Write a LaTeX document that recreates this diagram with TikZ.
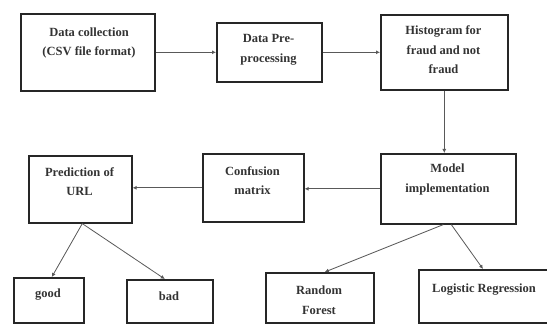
\documentclass[tikz,border=0pt]{standalone}
\usepackage{fontspec}
\setmainfont{Liberation Serif}
\usetikzlibrary{arrows.meta}
\begin{document}
\begin{tikzpicture}[x=1pt,y=-1pt,
  box/.style={draw=black!85,line width=1.6pt,anchor=north west,inner sep=0pt},
  lbl/.style={align=center,font=\fontsize{12.5}{19.5}\selectfont\bfseries,text=black!80,inner sep=0pt},
  flow/.style={draw=black!65,line width=0.8pt,-{Latex[length=4pt,width=4pt]}}]
\useasboundingbox (0,0) rectangle (547,326);
\clip (0,0) rectangle (547,326);
% boxes: top-left corner, width, height
\node[box,minimum width=134pt,minimum height=77pt] (collect) at (20,13) {};
\node[box,minimum width=105pt,minimum height=59pt] (prep) at (216,22) {};
\node[box,minimum width=127pt,minimum height=75pt] (hist) at (380,14) {};
\node[box,minimum width=135pt,minimum height=70pt] (model) at (380,153) {};
\node[box,minimum width=101pt,minimum height=68pt] (conf) at (202,153) {};
\node[box,minimum width=103pt,minimum height=67pt] (pred) at (28,155) {};
\node[box,minimum width=70pt,minimum height=45pt] (good) at (13,277) {};
\node[box,minimum width=86pt,minimum height=43pt] (bad) at (126,279) {};
\node[box,minimum width=108pt,minimum height=50pt] (rf) at (265,272) {};
\node[box,minimum width=150pt,minimum height=53pt] (lr) at (418,269) {};
% labels
\node[lbl] (tcollect) at (89,43) {Data collection\\(CSV file format)};
\node[lbl] (tprep) at (268.5,50) {Data Pre-\\processing};
\node[lbl] (thist) at (443.5,50) {Histogram for\\fraud and not\\fraud};
\node[lbl] (tmodel) at (447.5,179.5) {Model\\implementation};
\node[lbl] (tconf) at (252.5,180.5) {Confusion\\matrix};
\node[lbl] (tpred) at (79.5,181.5) {Prediction of\\URL};
\node[lbl] (tgood) at (48,295) {good};
\node[lbl] (tbad) at (169,296) {bad};
\node[lbl] (trf) at (319,300) {Random\\Forest};
\node[lbl] (tlr) at (484,290) {Logistic Regression};
% connectors
\draw[flow] (collect.east) -- (prep.west);
\draw[flow] (prep.east) -- (hist.west);
\draw[flow] (hist.south) -- (hist.south |- model.north);
\draw[flow] (model.west) -- (model.west -| conf.east);
\draw[flow] (conf.west) -- (conf.west -| pred.east);
\draw[flow] ([xshift=2pt]pred.south) -- ([xshift=3pt]good.north);
\draw[flow] ([xshift=2pt]pred.south) -- ([xshift=-5pt]bad.north);
\draw[flow] ([xshift=-5pt]model.south) -- ([xshift=5pt]rf.north);
\draw[flow] ([xshift=3pt]model.south) -- ([xshift=65pt]lr.north west);
\end{tikzpicture}
\end{document}
